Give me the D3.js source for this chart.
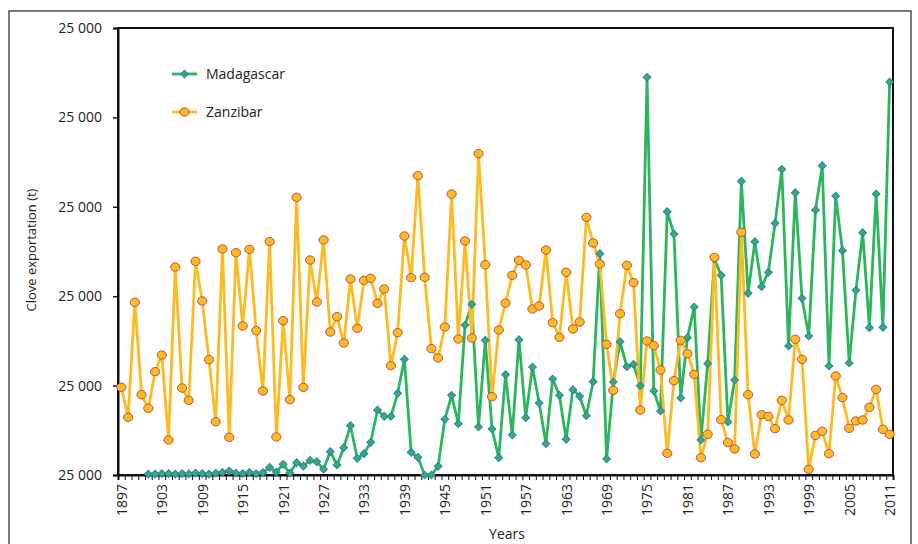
<!DOCTYPE html>
<html>
<head>
<meta charset="utf-8">
<script src="https://cdn.jsdelivr.net/npm/d3@7"></script>
<style>
  body { margin: 0; background: #fff; }
  text { font-family: "Open Sans", sans-serif; fill: #222; }
</style>
</head>
<body>
<div id="chart"></div>
<script>
// years on the category axis
var years = d3.range(1897, 2012);
var labelYears = d3.range(1897, 2012, 6);
var yTicks = [0, 5000, 10000, 15000, 20000, 25000];
var yTickLabel = "25 000";

// Madagascar starts in 1901 (tonnes)
var madaStart = 1901;
var madagascar = [50, 50, 80, 80, 50, 80, 60, 110, 80, 50,
  100, 150, 220, 110, 80, 150, 80, 130, 430, 170,
  600, 110, 690, 500, 820, 745, 320, 1305, 560, 1528,
  2759, 932, 1193, 1827, 3635, 3281, 3281, 4567, 6468, 1268,
  988, 0, 0, 485, 3113, 4455, 2871, 8390, 9547, 2685,
  7531, 2573, 969, 5610, 2237, 7569, 3206, 6040, 4027, 1752,
  5369, 4455, 1995, 4772, 4399, 3318, 5220, 12379, 895, 5200,
  7457, 6058, 6189, 4996, 22243, 4698, 3580, 14728, 13479, 4307,
  7681, 9396, 1958, 6225, 12064, 11168, 2964, 5313, 16426, 10161,
  13051, 10533, 11336, 14076, 17097, 7215, 15790, 9882, 7774, 14821,
  17302, 6096, 15605, 12545, 6264, 10330, 13553, 8240, 15716, 8259,
  21979];

// Zanzibar from 1897
var zanzibar = [4905, 3227, 9659, 4492, 3730, 5778, 6711, 1958, 11633, 4866,
  4177, 11952, 9732, 6449, 2983, 12640, 2107, 12435, 8334, 12621,
  8073, 4698, 13051, 2126, 8632, 4213, 15531, 4905, 12025, 9676,
  13143, 7998, 8855, 7383, 10962, 8203, 10887, 11000, 9602, 10403,
  6113, 7961, 13367, 11037, 16740, 11056, 7066, 6544, 8278, 15716,
  7606, 13088, 7662, 17973, 11762, 4381, 8110, 9620, 11168, 12006,
  11745, 9284, 9452, 12584, 8520, 7700, 11336, 8166, 8557, 14411,
  12976, 11801, 7308, 4735, 9023, 11726, 10757, 3635, 7494, 7233,
  5873, 1212, 5276, 7531, 6786, 5630, 969, 2275, 12174, 3095,
  1809, 1454, 13572, 4492, 1175, 3374, 3281, 2591, 4177, 3076,
  7588, 6468, 317, 2219, 2443, 1193, 5537, 4326, 2610, 3020,
  3076, 3785, 4791, 2554, 2275];

var madaData = madagascar.map(function (v, i) { return { year: madaStart + i, value: v }; });
var zanData = zanzibar.map(function (v, i) { return { year: 1897 + i, value: v }; });

var W = 918, H = 544;
var plotLeft = 118, plotRight = 893, plotTop = 28, plotBottom = 475;

var svg = d3.select("#chart").append("svg")
  .attr("width", W)
  .attr("height", H);

// outer frame
svg.append("rect")
  .attr("x", 9).attr("y", 11)
  .attr("width", 902).attr("height", 545)
  .attr("fill", "none")
  .attr("stroke", "#333")
  .attr("stroke-width", 1.3);

var x = d3.scaleLinear()
  .domain([1896.5, 2011.5])
  .range([plotLeft, plotRight]);

var y = d3.scaleLinear()
  .domain([0, 25000])
  .range([plotBottom, plotTop]);

// plot box
svg.append("rect")
  .attr("x", plotLeft).attr("y", plotTop)
  .attr("width", plotRight - plotLeft).attr("height", plotBottom - plotTop)
  .attr("fill", "none")
  .attr("stroke", "#111")
  .attr("stroke-width", 2);

// y axis
var yAxis = svg.append("g")
  .attr("transform", "translate(" + plotLeft + ",0)")
  .call(d3.axisLeft(y).tickValues(yTicks).tickSize(5).tickPadding(11)
    .tickFormat(function () { return yTickLabel; }));
yAxis.select(".domain").attr("stroke", "#111").attr("stroke-width", 2);
yAxis.selectAll(".tick line").attr("stroke", "#111").attr("stroke-width", 1.5);
yAxis.selectAll(".tick text")
  .style("font-family", "'Open Sans', sans-serif")
  .style("font-size", "14px")
  .attr("fill", "#222");

// x axis: minor ticks at every category boundary
var xTicks = svg.append("g")
  .attr("transform", "translate(0," + plotBottom + ")")
  .call(d3.axisBottom(x).tickValues(d3.range(1896.5, 2012, 1)).tickSize(5).tickFormat(""));
xTicks.select(".domain").attr("stroke", "#111").attr("stroke-width", 2);
xTicks.selectAll(".tick line").attr("stroke", "#111").attr("stroke-width", 1);

// x labels, rotated
var xLabels = svg.append("g")
  .attr("transform", "translate(0," + plotBottom + ")")
  .call(d3.axisBottom(x).tickValues(labelYears).tickSize(0).tickFormat(d3.format("d")));
xLabels.select(".domain").remove();
xLabels.selectAll(".tick text")
  .style("font-family", "'Open Sans', sans-serif")
  .style("font-size", "14px")
  .attr("fill", "#222")
  .attr("transform", "rotate(-90)")
  .attr("x", -9)
  .attr("y", 0)
  .attr("dy", "0.35em")
  .style("text-anchor", "end");

// axis titles
svg.append("text")
  .attr("x", 507).attr("y", 539)
  .attr("text-anchor", "middle")
  .style("font-size", "14px")
  .text("Years");

svg.append("text")
  .attr("transform", "translate(36,250) rotate(-90)")
  .attr("text-anchor", "middle")
  .style("font-size", "13px")
  .text("Clove exportation (t)");

var green = "#2bb55c", blueEdge = "#3c78c4";
var yellow = "#fdbb22", redEdge = "#c0504d";

var line = d3.line()
  .x(function (d) { return x(d.year); })
  .y(function (d) { return y(d.value); });

svg.append("path")
  .datum(madaData)
  .attr("d", line)
  .attr("fill", "none")
  .attr("stroke", green)
  .attr("stroke-width", 2.8)
  .attr("stroke-linejoin", "round");

svg.append("path")
  .datum(zanData)
  .attr("d", line)
  .attr("fill", "none")
  .attr("stroke", yellow)
  .attr("stroke-width", 2.8)
  .attr("stroke-linejoin", "round");

// square turned 45 degrees, like the spreadsheet diamond marker
var diamond = d3.symbol().type(d3.symbolSquare).size(30);

svg.selectAll(".mada")
  .data(madaData)
  .enter().append("path")
  .attr("class", "mada")
  .attr("d", diamond)
  .attr("transform", function (d) { return "translate(" + x(d.year) + "," + y(d.value) + ") rotate(45)"; })
  .attr("fill", green)
  .attr("stroke", blueEdge)
  .attr("stroke-width", 1);

svg.selectAll(".zan")
  .data(zanData)
  .enter().append("ellipse")
  .attr("class", "zan")
  .attr("cx", function (d) { return x(d.year); })
  .attr("cy", function (d) { return y(d.value); })
  .attr("rx", 4.6)
  .attr("ry", 4.2)
  .attr("fill", yellow)
  .attr("stroke", redEdge)
  .attr("stroke-width", 1);

// legend
var legend = svg.append("g");
var items = [
  { name: "Madagascar", y: 74, color: green },
  { name: "Zanzibar", y: 112, color: yellow }
];
items.forEach(function (it, i) {
  legend.append("line")
    .attr("x1", 172).attr("x2", 197)
    .attr("y1", it.y).attr("y2", it.y)
    .attr("stroke", it.color)
    .attr("stroke-width", 2.8);
  if (i == 0) {
    legend.append("path")
      .attr("d", diamond)
      .attr("transform", "translate(184.5," + it.y + ") rotate(45)")
      .attr("fill", green)
      .attr("stroke", blueEdge);
  } else {
    legend.append("ellipse")
      .attr("cx", 184.5).attr("cy", it.y)
      .attr("rx", 4.6).attr("ry", 4.2)
      .attr("fill", yellow)
      .attr("stroke", redEdge);
  }
  legend.append("text")
    .attr("x", 206).attr("y", it.y)
    .attr("dy", "0.35em")
    .style("font-size", "14px")
    .text(it.name);
});
</script>
</body>
</html>
